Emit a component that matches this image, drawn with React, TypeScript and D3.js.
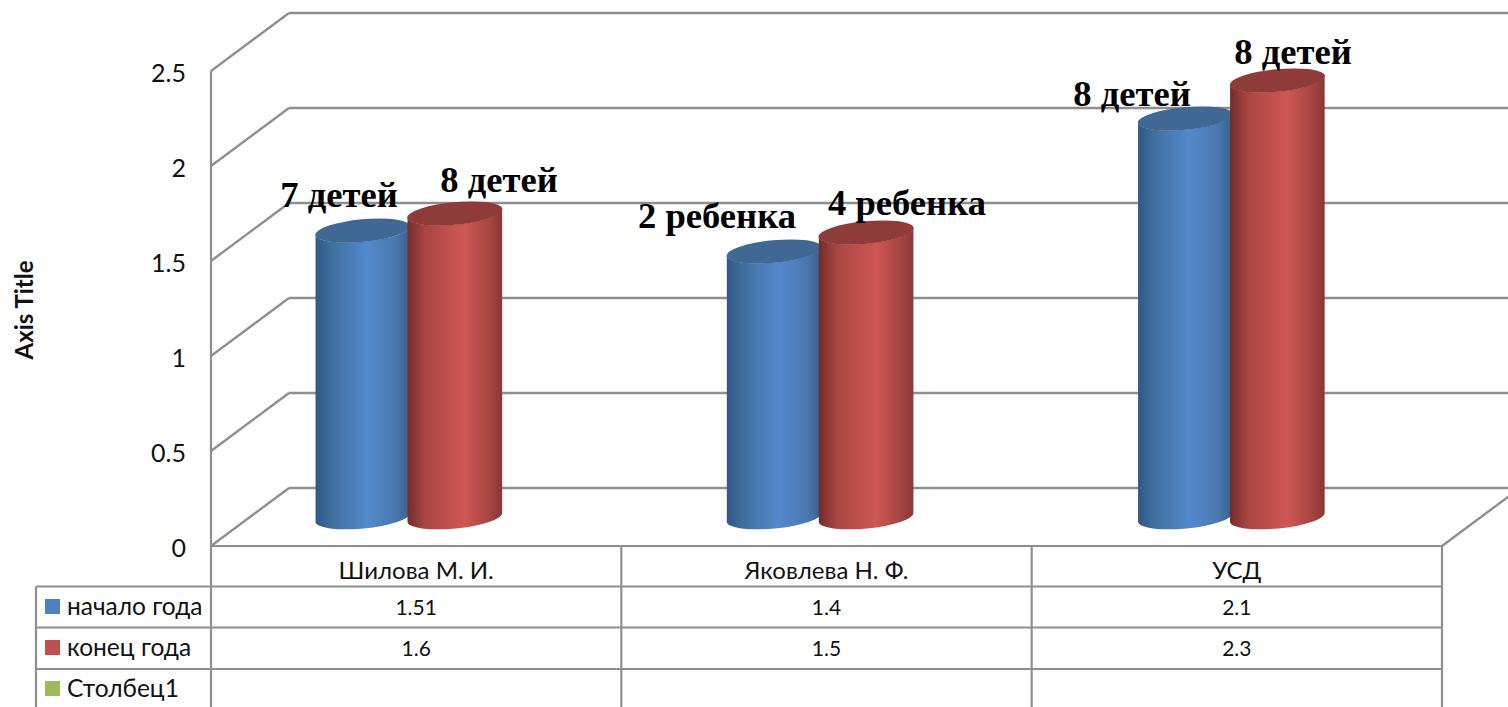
import React from "react";
import * as d3 from "d3";

const categories = ["Шилова М. И.", "Яковлева Н. Ф.", "УСД"];
const seriesNames = ["начало года", "конец года", "Столбец1"];
const startValues = [1.51, 1.4, 2.1];
const endValues = [1.6, 1.5, 2.3];
const startLabels = ["7 детей", "2 ребенка", "8 детей"];
const endLabels = ["8 детей", "4 ребенка", "8 детей"];
const yTicks = [0, 0.5, 1, 1.5, 2, 2.5];
const tableStart = ["1.51", "1.4", "2.1"];
const tableEnd = ["1.6", "1.5", "2.3"];
const swatches = ["#4f81bd", "#c0504d", "#9bbb59"];

const W = 1508, H = 707;
const GRID = "#8f8f8f";
const SANS = "Lato, 'Open Sans', 'Noto Sans', sans-serif";
const SERIF = "'Liberation Serif', serif";

const y = d3.scaleLinear().domain([0, 2.5]).range([546, 71]);
const x = d3.scaleBand<string>().domain(categories).range([211, 1442]);
const barX = d3.scaleBand<string>().domain(categories).range([203.2, 1437]);
const depthX = 78, depthY = -58;
const baseY = 517.5;
const rowLines = [586.5, 627.5, 669];
const rowText = [607, 648, 689];
const tableLeft = 36;

const rx = 47.5, ry = 11, tilt = -5.4;
const sin = Math.sin((tilt * Math.PI) / 180), cos = Math.cos((tilt * Math.PI) / 180);

function Cylinder({ cx, value, grad, top }: { cx: number; value: number; grad: string; top: string }) {
  const h = y(0) - y(value);
  const cyTop = baseY - h;
  const dx = rx * cos, dy = rx * sin;
  const body = `M${cx - dx},${cyTop - dy} L${cx - dx},${baseY - dy} A${rx},${ry} ${tilt} 0 0 ${cx + dx},${baseY + dy} L${cx + dx},${cyTop + dy} A${rx},${ry} ${tilt} 0 1 ${cx - dx},${cyTop - dy} Z`;
  return (
    <g>
      <path d={body} fill={`url(#${grad})`} />
      <ellipse cx={cx} cy={cyTop} rx={rx + 0.3} ry={ry + 0.3} transform={`rotate(${tilt} ${cx} ${cyTop})`} fill={top} />
    </g>
  );
}

export default function App() {
  const bw = x.bandwidth();
  const half = 46;
  const leftTicks = yTicks.map((t) => y(t));
  const verticals = [...categories.map((c) => x(c)!), 1442];
  return (
    <svg width={W} height={H} viewBox={`0 0 ${W} ${H}`} style={{ position: "absolute", left: 0, top: 0, background: "#fff" }}>
      <defs>
        <linearGradient id="blue" x1="0" x2="1" y1="0" y2="0">
          <stop offset="0" stopColor="#2f5784" />
          <stop offset="0.18" stopColor="#41709f" />
          <stop offset="0.55" stopColor="#5389cc" />
          <stop offset="0.85" stopColor="#4a78ad" />
          <stop offset="1" stopColor="#355f8e" />
        </linearGradient>
        <linearGradient id="red" x1="0" x2="1" y1="0" y2="0">
          <stop offset="0" stopColor="#722b2a" />
          <stop offset="0.18" stopColor="#a84543" />
          <stop offset="0.6" stopColor="#cf5755" />
          <stop offset="0.85" stopColor="#a84644" />
          <stop offset="1" stopColor="#8a3735" />
        </linearGradient>
      </defs>

      {leftTicks.map((py) => (
        <g key={py} stroke={GRID} strokeWidth={2.4} fill="none">
          <line x1={211} y1={py} x2={211 + depthX} y2={py + depthY} />
          <line x1={211 + depthX} y1={py + depthY} x2={W} y2={py + depthY} />
        </g>
      ))}
      <line x1={1442} y1={546} x2={1442 + depthX} y2={546 + depthY} stroke={GRID} strokeWidth={2.4} />

      <g stroke={GRID} strokeWidth={2.2}>
        <line x1={211} y1={546} x2={1442} y2={546} />
        <line x1={211} y1={71} x2={211} y2={H} />
        {verticals.slice(1).map((vx) => <line key={vx} x1={vx} y1={546} x2={vx} y2={H} />)}
        <line x1={tableLeft} y1={rowLines[0]} x2={tableLeft} y2={H} />
        {rowLines.map((ry2) => <line key={ry2} x1={tableLeft} y1={ry2} x2={1442} y2={ry2} />)}
      </g>

      {categories.map((c, i) => {
        const center = barX(c)! + barX.bandwidth() / 2;
        return (
          <g key={c}>
            <Cylinder cx={center - half} value={startValues[i]} grad="blue" top="#3f6895" />
            <Cylinder cx={center + half} value={endValues[i]} grad="red" top="#8f3b39" />
          </g>
        );
      })}

      <g fontFamily={SANS} fontSize={25} fill="#111" textAnchor="end">
        {yTicks.map((t) => (
          <text key={t} x={186} y={y(t) + 11}>{d3.format("")(t)}</text>
        ))}
      </g>
      <text transform="translate(33,310) rotate(-90)" fontFamily={SANS} fontSize={24} fontWeight={700} textAnchor="middle" fill="#111">Axis Title</text>

      <g fontFamily={SANS} fill="#111" textAnchor="middle">
        {categories.map((c, i) => {
          const mid = x(c)! + bw / 2;
          return (
            <g key={c}>
              <text x={mid} y={579} fontSize={24}>{c}</text>
              <text x={mid} y={rowText[0] + 8} fontSize={21}>{tableStart[i]}</text>
              <text x={mid} y={rowText[1] + 8} fontSize={21}>{tableEnd[i]}</text>
            </g>
          );
        })}
      </g>
      {seriesNames.map((s, i) => (
        <g key={s}>
          <rect x={45} y={rowText[i] - 8} width={15} height={15} fill={swatches[i]} />
          <text x={67} y={rowText[i] + 8} fontFamily={SANS} fontSize={24.5} fill="#111">{s}</text>
        </g>
      ))}

      <g fontFamily={SERIF} fontWeight={700} fontSize={36.6} fill="#000" textAnchor="middle">
        <text x={339} y={207}>{startLabels[0]}</text>
        <text x={499} y={192}>{endLabels[0]}</text>
        <text x={717} y={228}>{startLabels[1]}</text>
        <text x={907} y={215}>{endLabels[1]}</text>
        <text x={1132} y={106}>{startLabels[2]}</text>
        <text x={1293} y={64}>{endLabels[2]}</text>
      </g>
    </svg>
  );
}
